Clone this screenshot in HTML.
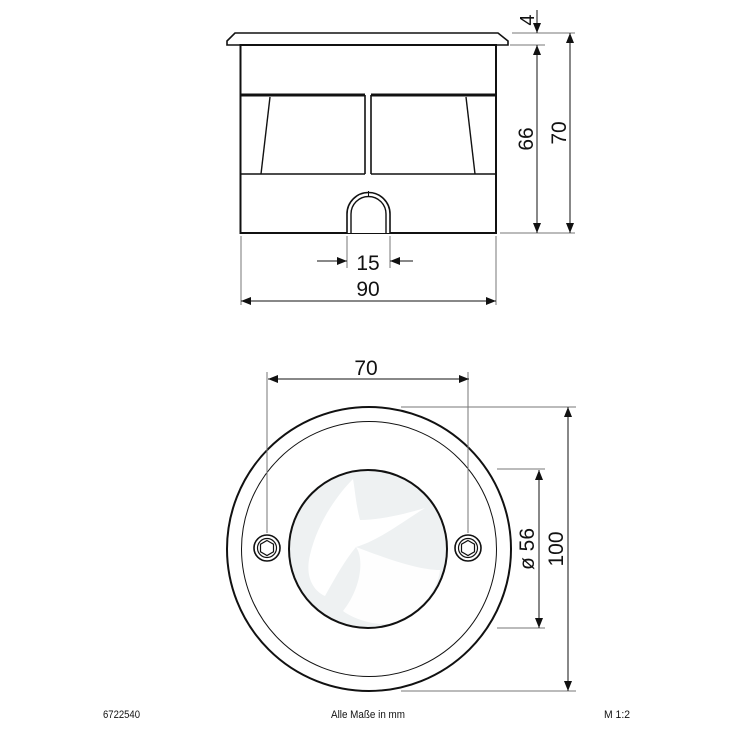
<!DOCTYPE html>
<html><head><meta charset="utf-8"><style>
html,body{margin:0;padding:0;background:#fff;}
svg{display:block;}
text{font-family:"Liberation Sans",Arial,sans-serif;fill:#111;}
</style></head><body>
<svg width="737" height="737" viewBox="0 0 737 737" xmlns="http://www.w3.org/2000/svg">
<defs>
<marker id="a" viewBox="0 0 10 10" refX="10" refY="5" markerWidth="10" markerHeight="10" markerUnits="userSpaceOnUse" orient="auto-start-reverse"><path d="M0,1 L10,5 L0,9 z" fill="#111"/></marker>
</defs>
<g fill="none" stroke="#111">
<!-- flange -->
<path d="M235,33 L498,33 L508,41 L508,45 L227,45 L227,41 Z" stroke-width="1.6"/>
<!-- body -->
<rect x="240.5" y="45" width="255.5" height="188" stroke-width="2"/>
<line x1="241" y1="95" x2="365" y2="95" stroke-width="3"/>
<line x1="371" y1="95" x2="495" y2="95" stroke-width="3"/>
<line x1="365" y1="95" x2="365" y2="174" stroke-width="1.6"/>
<line x1="371" y1="95" x2="371" y2="174" stroke-width="1.6"/>
<line x1="240" y1="174" x2="365" y2="174" stroke-width="1.6"/>
<line x1="371" y1="174" x2="496" y2="174" stroke-width="1.6"/>
<line x1="270" y1="97" x2="261" y2="174" stroke-width="1.4"/>
<line x1="466" y1="97" x2="475" y2="174" stroke-width="1.4"/>
<!-- cable arch -->
<path d="M347,233 V214 A21.5,21.5 0 0 1 390,214 V233" stroke-width="1.6" fill="#fff"/>
<path d="M351,233 V214 A17.5,17.5 0 0 1 386,214 V233" stroke-width="1.4"/>
<line x1="368.5" y1="191" x2="368.5" y2="196" stroke-width="1"/>
</g>
<!-- dimensions top -->
<g stroke="#777" stroke-width="1" fill="none">
<line x1="512" y1="33" x2="575" y2="33"/>
<line x1="510" y1="45" x2="545" y2="45"/>
<line x1="500" y1="233" x2="575" y2="233"/>
<line x1="241" y1="236" x2="241" y2="305"/>
<line x1="496" y1="236" x2="496" y2="305"/>
<line x1="347" y1="236" x2="347" y2="268"/>
<line x1="390" y1="236" x2="390" y2="268"/>
</g>
<g stroke="#111" stroke-width="1" fill="none">
<line x1="537" y1="10" x2="537" y2="33" marker-end="url(#a)"/>
<line x1="537" y1="45" x2="537" y2="233" marker-start="url(#a)" marker-end="url(#a)"/>
<line x1="570" y1="33" x2="570" y2="233" marker-start="url(#a)" marker-end="url(#a)"/>
<line x1="317" y1="261" x2="347" y2="261" marker-end="url(#a)"/>
<line x1="413" y1="261" x2="390" y2="261" marker-end="url(#a)"/>
<line x1="241" y1="301" x2="496" y2="301" marker-start="url(#a)" marker-end="url(#a)"/>
</g>
<text x="0" y="0" font-size="20" text-anchor="middle" transform="translate(534,20) rotate(-90)">4</text>
<text x="0" y="0" font-size="21" text-anchor="middle" transform="translate(533,139) rotate(-90)">66</text>
<text x="0" y="0" font-size="21" text-anchor="middle" transform="translate(566,133) rotate(-90)">70</text>
<text x="368" y="270" font-size="21" text-anchor="middle">15</text>
<text x="368" y="296" font-size="21" text-anchor="middle">90</text>
<!-- bottom view -->
<path d="M358,481 C345,492 320,510 310,540 C305,560 312,575 322,575 C335,565 345,545 350,535 C372,532 398,528 420,500 C410,510 380,525 360,520 C358,505 360,490 358,481 Z" fill="#e8ecee" opacity="0"/>
<circle cx="368" cy="549" r="79" fill="#eef1f2"/>
<path d="M353,479 C340,492 318,520 310,555 C305,575 312,590 325,596 C335,578 345,560 356,547 C380,540 405,520 425,508 C405,514 380,520 360,520 C356,505 355,490 353,479 Z" fill="#fff"/>
<path d="M356,547 C365,560 360,590 343,611 C355,620 380,628 400,622 C420,612 438,590 440,570 C420,570 390,560 356,547 Z" fill="#fff" opacity="0.9"/>
<g fill="none" stroke="#111">
<circle cx="369" cy="549" r="142" stroke-width="2"/>
<circle cx="369" cy="549" r="127.5" stroke-width="1"/>
<circle cx="368" cy="549" r="79" stroke-width="2"/>
<circle cx="267" cy="548" r="13" stroke-width="1.6"/>
<circle cx="267" cy="548" r="9.5" stroke-width="1.2"/>
<polygon points="267,540.5 273.5,544.2 273.5,551.8 267,555.5 260.5,551.8 260.5,544.2" stroke-width="1.2"/>
<circle cx="468" cy="548" r="13" stroke-width="1.6"/>
<circle cx="468" cy="548" r="9.5" stroke-width="1.2"/>
<polygon points="468,540.5 474.5,544.2 474.5,551.8 468,555.5 461.5,551.8 461.5,544.2" stroke-width="1.2"/>
</g>
<g stroke="#777" stroke-width="1" fill="none">
<line x1="267" y1="372" x2="267" y2="533"/>
<line x1="468" y1="372" x2="468" y2="533"/>
<line x1="401" y1="407" x2="576" y2="407"/>
<line x1="401" y1="691" x2="576" y2="691"/>
<line x1="497" y1="469" x2="545" y2="469"/>
<line x1="497" y1="628" x2="545" y2="628"/>
</g>
<g stroke="#111" stroke-width="1" fill="none">
<line x1="268" y1="379" x2="469" y2="379" marker-start="url(#a)" marker-end="url(#a)"/>
<line x1="539" y1="470" x2="539" y2="628" marker-start="url(#a)" marker-end="url(#a)"/>
<line x1="568" y1="407" x2="568" y2="691" marker-start="url(#a)" marker-end="url(#a)"/>
</g>
<text x="366" y="375" font-size="21" text-anchor="middle">70</text>
<text x="0" y="0" font-size="21" text-anchor="middle" transform="translate(534,549) rotate(-90)">ø 56</text>
<text x="0" y="0" font-size="21" text-anchor="middle" transform="translate(563,549) rotate(-90)">100</text>
<!-- footer -->
<text x="103" y="718" font-size="11" textLength="37" lengthAdjust="spacingAndGlyphs">6722540</text>
<text x="331" y="718" font-size="11" textLength="74" lengthAdjust="spacingAndGlyphs">Alle Maße in mm</text>
<text x="604" y="718" font-size="11" textLength="26" lengthAdjust="spacingAndGlyphs">M 1:2</text>
</svg>
</body></html>
